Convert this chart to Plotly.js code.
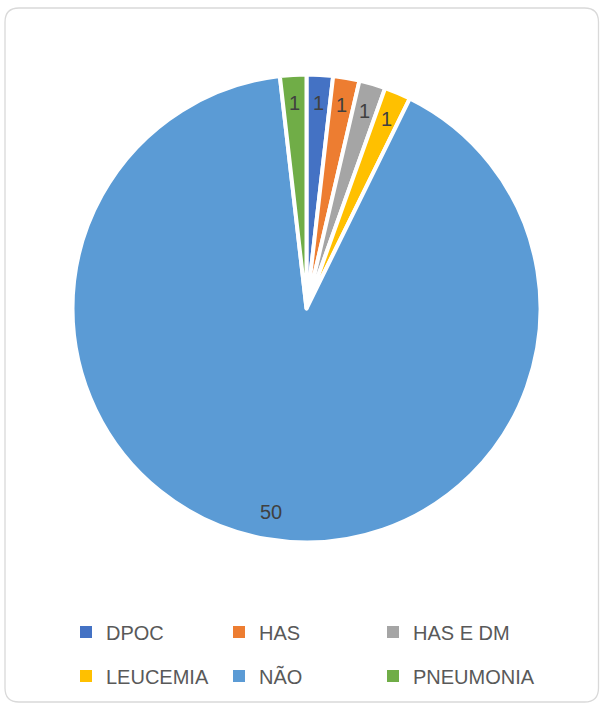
<!DOCTYPE html>
<html>
<head>
<meta charset="utf-8">
<script src="https://cdn.plot.ly/plotly-3.0.1.min.js"></script>
<style>html,body{margin:0;padding:0;background:#fff;}#chart{width:600px;height:704px;}</style>
</head>
<body>
<div id="chart"></div>
<script>
const categories = ["DPOC", "HAS", "HAS E DM", "LEUCEMIA", "NÃO", "PNEUMONIA"];
const values = [1, 1, 1, 1, 50, 1];
const colors = ["#4472C4", "#ED7D31", "#A5A5A5", "#FFC000", "#5B9BD5", "#70AD47"];

const W = 600, H = 704;
const cx = 306.5, cy = 308.5, R = 231.5, Rdom = 234;
const dom = {x: [(cx - Rdom) / W, (cx + Rdom) / W], y: [1 - (cy + Rdom) / H, 1 - (cy - Rdom) / H]};

// label annotations computed from the data (angles of each slice)
const total = values.reduce((a, b) => a + b, 0);
let cum = 0;
const annotations = values.map((v, i) => {
  const mid = (cum + v / 2) / total * 2 * Math.PI;
  cum += v;
  const r = R * 0.89;
  return {
    x: (cx + r * Math.sin(mid)) / W,
    y: 1 - (cy - r * Math.cos(mid)) / H,
    xref: "paper", yref: "paper",
    text: String(v), showarrow: false,
    xanchor: "center", yanchor: "middle",
    font: {family: "Liberation Sans, Arial, sans-serif", size: 20, color: "#404040"}
  };
});

// rounded card border
const x0 = 5 / W, x1 = 598.5 / W, y0 = 1 - 702 / H, y1 = 1 - 8 / H;
const rx = 14 / W, ry = 14 / H;
const cardPath = `M${x0 + rx},${y1} L${x1 - rx},${y1} Q${x1},${y1} ${x1},${y1 - ry} L${x1},${y0 + ry} Q${x1},${y0} ${x1 - rx},${y0} L${x0 + rx},${y0} Q${x0},${y0} ${x0},${y0 + ry} L${x0},${y1 - ry} Q${x0},${y1} ${x0 + rx},${y1} Z`;

// legend grid: 3 columns x 2 rows (Excel style)
const legendColX = [105, 258, 412];   // text start, px
const legendRowY = [632, 676];        // row centre, px

const traces = [];
const layout = {
  width: W, height: H,
  margin: {l: 0, r: 0, t: 0, b: 0},
  paper_bgcolor: "#ffffff",
  font: {family: "Liberation Sans, Arial, sans-serif"},
  showlegend: true,
  annotations: annotations,
  shapes: [{type: "path", xref: "paper", yref: "paper", path: cardPath,
            line: {color: "#d9d9d9", width: 1.3}, fillcolor: "rgba(0,0,0,0)"}]
};

// tiny pies (hidden under the main pie) that each carry one legend entry
categories.forEach((c, i) => {
  const id = i === 0 ? "legend" : "legend" + (i + 1);
  traces.push({
    type: "pie",
    labels: [c],
    values: [values[i]],
    marker: {colors: [colors[i]], line: {width: 0}},
    textinfo: "none",
    hoverinfo: "skip",
    domain: {x: [0.5, 0.5005], y: [0.55, 0.5505]},
    showlegend: true,
    legend: id
  });
  layout[id] = {
    orientation: "h",
    x: (legendColX[i % 3] - 39) / W, xanchor: "left",
    y: 1 - legendRowY[Math.floor(i / 3)] / H, yanchor: "middle",
    font: {size: 20, color: "#595959", family: "Liberation Sans, Arial, sans-serif"},
    bgcolor: "rgba(0,0,0,0)"
  };
});

// main pie drawn last, on top
traces.push({
  type: "pie",
  labels: categories,
  values: values,
  sort: false,
  direction: "clockwise",
  rotation: 0,
  marker: {colors: colors, line: {color: "#ffffff", width: 4}},
  textinfo: "none",
  hoverinfo: "label+value",
  domain: dom,
  showlegend: false
});

Plotly.newPlot("chart", traces, layout, {staticPlot: true});
</script>
</body>
</html>
